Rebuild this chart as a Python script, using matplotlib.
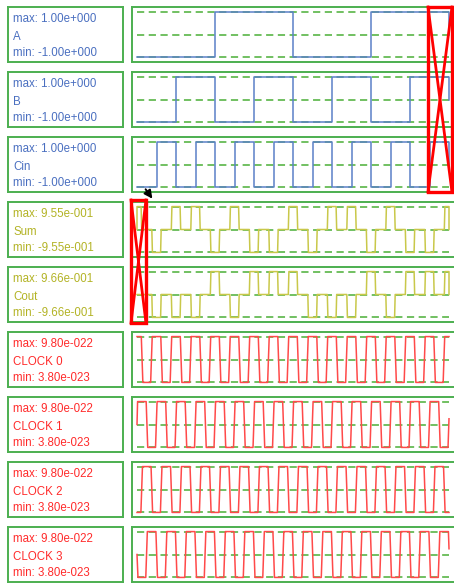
import numpy as np
import matplotlib.pyplot as plt
from matplotlib.patches import Rectangle, FancyArrowPatch

plt.rcParams['font.family'] = ['Liberation Sans', 'DejaVu Sans']

# signal names and ranges
names = ['A', 'B', 'Cin', 'Sum', 'Cout', 'CLOCK 0', 'CLOCK 1', 'CLOCK 2', 'CLOCK 3']
max_text = ['1.00e+000', '1.00e+000', '1.00e+000', '9.55e-001', '9.66e-001',
            '9.80e-022', '9.80e-022', '9.80e-022', '9.80e-022']
min_text = ['-1.00e+000', '-1.00e+000', '-1.00e+000', '-9.55e-001', '-9.66e-001',
            '3.80e-023', '3.80e-023', '3.80e-023', '3.80e-023']
vmax = [1.0, 1.0, 1.0, 0.955, 0.966, 9.8e-22, 9.8e-22, 9.8e-22, 9.8e-22]
vmin = [-1.0, -1.0, -1.0, -0.955, -0.966, 3.8e-23, 3.8e-23, 3.8e-23, 3.8e-23]

# inputs, one value per time slot
a_bits = [0, 0, 0, 0, 1, 1, 1, 1, 0, 0, 0, 0, 1, 1, 1, 1]
b_bits = [0, 0, 1, 1, 0, 0, 1, 1, 0, 0, 1, 1, 0, 0, 1, 1]
cin_bits = [0, 1, 0, 1, 0, 1, 0, 1, 0, 1, 0, 1, 0, 1, 0, 1]

# outputs: polarisation pulse at each clock hold (+1 max, -1 min, 0 none)
sum_pulses = [1, -1, 1, 1, -1, 1, -1, -1, 1, -1, 1, 1, -1, 1, -1, -1, 1]
cout_pulses = [0, -1, -1, -1, 1, -1, 1, 1, 1, -1, -1, -1, 1, -1, 1, 1, 1]

# clock: one period (1 = high, 0 = low) and the start of the high part per clock
clock_shape_t = [0.0, 0.44, 0.52, 0.92, 1.0]
clock_shape_lvl = [1, 1, 0, 0, 1]
clock_start = [-0.22, 0.03, 0.28, 0.53]

n_slots = 16
blue_txt, blue_ln = '#4a6fc0', '#5b80c8'
olive_txt, olive_ln = '#b3b325', '#c9c84a'
red_txt, red_ln = '#ff2a2a', '#ff4a4a'
txt_colors = [blue_txt] * 3 + [olive_txt] * 2 + [red_txt] * 4
ln_colors = [blue_ln] * 3 + [olive_ln] * 2 + [red_ln] * 4
green = '#4caf50'
dash_green = '#66bb55'

W, H = 454, 583
fig = plt.figure(figsize=(W / 100, H / 100), dpi=100)


def px_box(x0, y0, w, h):
    return [x0 / W, 1 - (y0 + h) / H, w / W, h / H]


row_tops = [7, 72, 137, 202, 267, 332, 397, 462, 527]
row_h = 55
u = 19.5  # pixels per time slot
t0_px = 137
right_left, right_right = 132, 470

for i, name in enumerate(names):
    top = row_tops[i]
    # label box
    axl = fig.add_axes(px_box(8, top, 115, row_h))
    axl.set_xticks([])
    axl.set_yticks([])
    for s in axl.spines.values():
        s.set_color(green)
        s.set_linewidth(1.4)
    for yy, txt in zip([0.776, 0.46, 0.158],
                       ['max: ' + max_text[i], name, 'min: ' + min_text[i]]):
        axl.text(0.046, yy, txt, transform=axl.transAxes, ha='left', va='center',
                 fontsize=8.3, color=txt_colors[i])

    # waveform box
    ax = fig.add_axes(px_box(right_left, top, right_right - right_left, row_h))
    ax.set_xticks([])
    ax.set_yticks([])
    for s in ax.spines.values():
        s.set_color(green)
        s.set_linewidth(1.4)
    hi, lo = vmax[i], vmin[i]
    mid = (hi + lo) / 2
    span = hi - lo
    ax.set_xlim((right_left - t0_px) / u, (right_right - t0_px) / u)
    ax.set_ylim(lo - 0.1 * span, hi + 0.1 * span)
    for lvl in [hi, mid, lo]:
        ax.plot([0, n_slots], [lvl, lvl], color=dash_green, lw=1.3,
                dashes=(4, 2.5), zorder=1)

    if i < 3:
        bits = [a_bits, b_bits, cin_bits][i]
        y = [hi if b else lo for b in bits] + [mid]
        ax.step(np.arange(n_slots + 1), y, where='post', color=ln_colors[i], lw=1.1, zorder=2)
    elif i < 5:
        pulses = [sum_pulses, cout_pulses][i - 3]
        xs, ys = [], []
        for c, p in enumerate(pulses):
            v = mid + p * (hi - mid)
            xs += [c - 0.24, c - 0.21, c + 0.21, c + 0.24]
            ys += [mid, v, v, mid]
        xs = np.clip(xs, 0, n_slots)
        ax.plot(xs, ys, color=ln_colors[i], lw=1.1, zorder=2)
    else:
        k = i - 5
        tt, yy = [], []
        for p in range(-1, n_slots + 1):
            for st, lv in zip(clock_shape_t, clock_shape_lvl):
                tt.append(clock_start[k] + p + st)
                yy.append(lo + lv * (hi - lo))
        tt = np.array(tt)
        yy = np.array(yy)
        keep = (tt > 0) & (tt < n_slots)
        xs = np.concatenate([[0], tt[keep], [n_slots]])
        ys = np.concatenate([[np.interp(0, tt, yy)], yy[keep], [np.interp(n_slots, tt, yy)]])
        if k in (1, 3):
            ys[0] = mid
        ax.plot(xs, ys, color=ln_colors[i], lw=1.1, zorder=2)


# red crossed boxes and arrow drawn on the figure
def red_cross(x0, y0, x1, y1):
    fx0, fx1 = x0 / W, x1 / W
    fy0, fy1 = 1 - y0 / H, 1 - y1 / H
    fig.add_artist(Rectangle((fx0, fy1), fx1 - fx0, fy0 - fy1, transform=fig.transFigure,
                             fill=False, edgecolor='#ff0000', lw=2.4))
    fig.add_artist(plt.Line2D([fx0, fx1], [fy0, fy1], transform=fig.transFigure,
                              color='#ff0000', lw=2.0))
    fig.add_artist(plt.Line2D([fx0, fx1], [fy1, fy0], transform=fig.transFigure,
                              color='#ff0000', lw=2.0))


red_cross(428, 7, 452, 192)
red_cross(131, 200, 146, 323)
fig.add_artist(FancyArrowPatch((144 / W, 1 - 187 / H), (154 / W, 1 - 201 / H),
                               transform=fig.transFigure, arrowstyle='-|>',
                               mutation_scale=12, color='black', lw=1.4))

fig.savefig('out.png', dpi=100)
